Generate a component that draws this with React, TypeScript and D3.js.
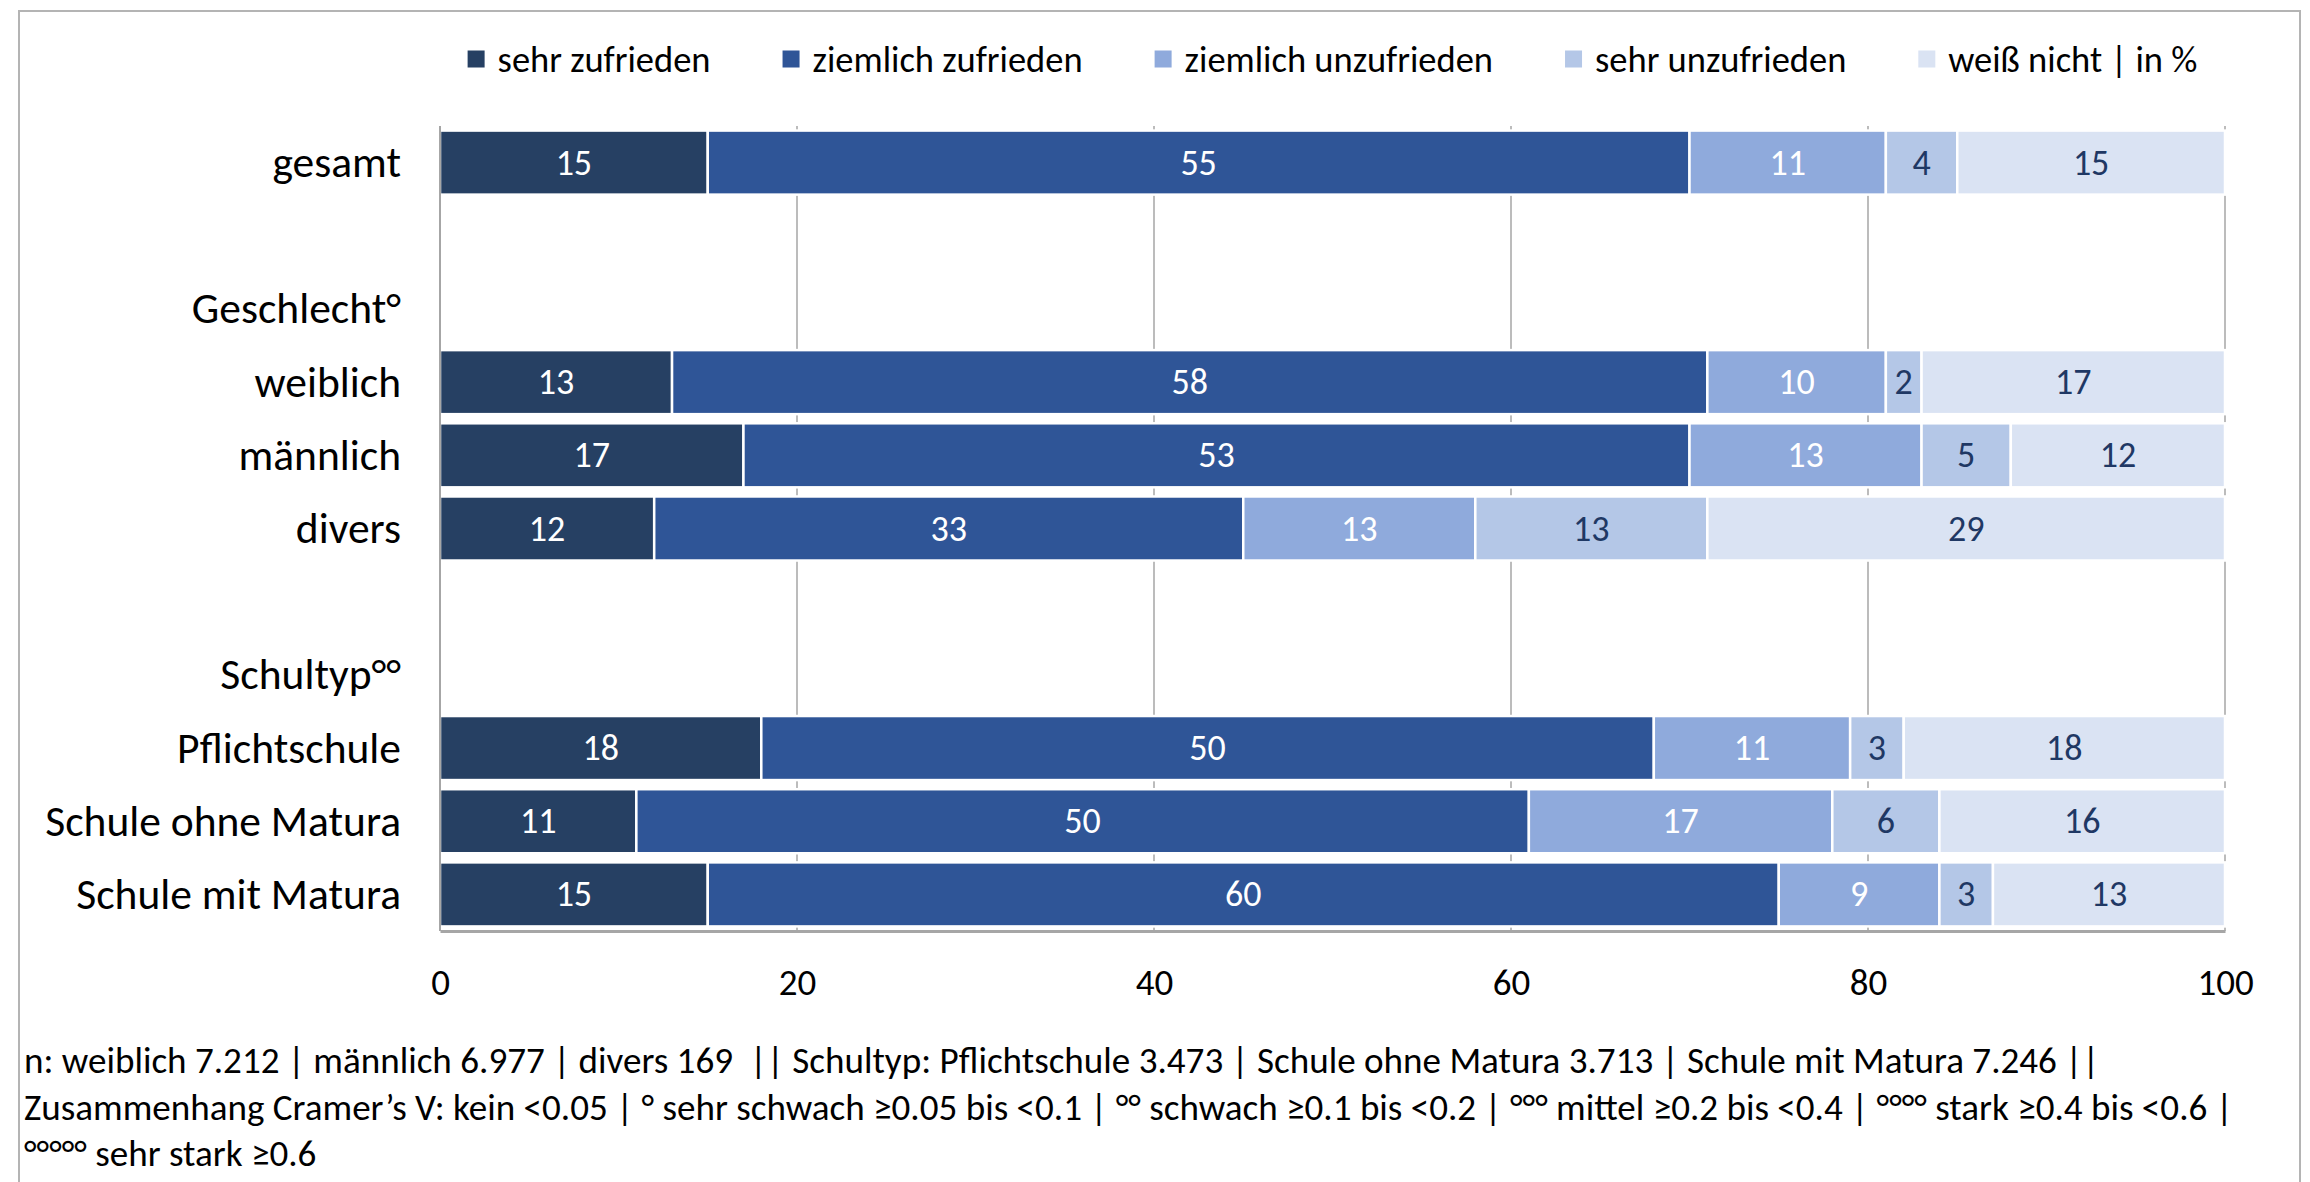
import React, { useEffect, useRef } from 'react';
import * as d3 from 'd3';

const WIDTH = 2310;
const HEIGHT = 1182;
const FONT = 'Carlito, Calibri, Lato, sans-serif';

// rows of the chart, header rows and spacer rows have no values
const categories = [
  'gesamt', '', 'Geschlecht°', 'weiblich', 'männlich', 'divers',
  '', 'Schultyp°°', 'Pflichtschule', 'Schule ohne Matura', 'Schule mit Matura',
];

const seriesNames = ['sehr zufrieden', 'ziemlich zufrieden', 'ziemlich unzufrieden', 'sehr unzufrieden', 'weiß nicht | in %'];
const sehrZufrieden = [15, null, null, 13, 17, 12, null, null, 18, 11, 15];
const ziemlichZufrieden = [55, null, null, 58, 53, 33, null, null, 50, 50, 60];
const ziemlichUnzufrieden = [11, null, null, 10, 13, 13, null, null, 11, 17, 9];
const sehrUnzufrieden = [4, null, null, 2, 5, 13, null, null, 3, 6, 3];
const weissNicht = [15, null, null, 17, 12, 29, null, null, 18, 16, 13];

const seriesColors = ['#264063', '#2F5597', '#8FAADC', '#B4C7E7', '#DAE3F3'];
const labelColors = ['#ffffff', '#ffffff', '#ffffff', '#1F3864', '#1F3864'];

const xTicks = [0, 20, 40, 60, 80, 100];

const footnoteLines = [
  'n: weiblich 7.212 | männlich 6.977 | divers 169  || Schultyp: Pflichtschule 3.473 | Schule ohne Matura 3.713 | Schule mit Matura 7.246 ||',
  'Zusammenhang Cramer’s V: kein <0.05 | ° sehr schwach ≥0.05 bis <0.1 | °° schwach ≥0.1 bis <0.2 | °°° mittel ≥0.2 bis <0.4 | °°°° stark ≥0.4 bis <0.6 |',
  '°°°°° sehr stark ≥0.6',
];

type Row = { key: string; label: string; [k: string]: number | string };

export default function App() {
  const ref = useRef<SVGSVGElement>(null);

  useEffect(() => {
    const svg = d3.select(ref.current);
    svg.selectAll('*').remove();

    const allSeries = [sehrZufrieden, ziemlichZufrieden, ziemlichUnzufrieden, sehrUnzufrieden, weissNicht];
    const rows: Row[] = categories.map((c, i) => {
      const r: Row = { key: String(i), label: c };
      seriesNames.forEach((s, j) => { r[s] = allSeries[j][i] ?? 0; });
      return r;
    });

    const x = d3.scaleLinear().domain([0, 100]).range([440, 2225]);
    const y = d3.scaleBand<string>()
      .domain(rows.map(r => r.key))
      .range([126, 931])
      .paddingInner(0.125)
      .paddingOuter(0.0625);

    // frame
    svg.append('rect')
      .attr('x', 19).attr('y', 11)
      .attr('width', 2281).attr('height', 1200)
      .attr('fill', 'none')
      .attr('stroke', '#b4b4b4')
      .attr('stroke-width', 2);

    // gridlines
    svg.append('g')
      .selectAll('line')
      .data(xTicks.filter(t => t > 0))
      .join('line')
      .attr('x1', d => x(d)).attr('x2', d => x(d))
      .attr('y1', 126).attr('y2', 931)
      .attr('stroke', '#a6a6a6')
      .attr('stroke-width', 1.5);

    const stack = d3.stack<Row>().keys(seriesNames).value((d, k) => d[k] as number);
    const stacked = stack(rows);

    const barRows = (i: number) => allSeries[0][i] !== null;

    const layers = svg.append('g')
      .selectAll('g')
      .data(stacked)
      .join('g')
      .attr('fill', (_, i) => seriesColors[i]);

    layers.selectAll('rect')
      .data(d => d.filter((_, i) => barRows(i)))
      .join('rect')
      .attr('x', d => x(d[0]))
      .attr('y', d => y(d.data.key)!)
      .attr('width', d => x(d[1]) - x(d[0]))
      .attr('height', y.bandwidth())
      .attr('stroke', '#ffffff')
      .attr('stroke-width', 2.5);

    const labels = svg.append('g')
      .selectAll('g')
      .data(stacked)
      .join('g')
      .attr('fill', (_, i) => labelColors[i]);

    labels.selectAll('text')
      .data(d => d.filter((_, i) => barRows(i)))
      .join('text')
      .attr('x', d => (x(d[0]) + x(d[1])) / 2)
      .attr('y', d => y(d.data.key)! + y.bandwidth() / 2)
      .attr('text-anchor', 'middle')
      .attr('dominant-baseline', 'central')
      .attr('font-family', FONT)
      .attr('font-size', 36)
      .text(d => String(d[1] - d[0]));

    // left axis line
    svg.append('line')
      .attr('x1', x(0)).attr('x2', x(0))
      .attr('y1', 126).attr('y2', 931)
      .attr('stroke', '#a6a6a6')
      .attr('stroke-width', 2);

    // bottom axis
    const axis = svg.append('g')
      .attr('transform', 'translate(0,931)')
      .call(d3.axisBottom(x).tickValues(xTicks).tickSize(0).tickPadding(38).tickFormat(d3.format('d')));
    axis.select('.domain').attr('stroke', '#a6a6a6').attr('stroke-width', 3);
    axis.selectAll('text')
      .attr('font-family', FONT)
      .attr('font-size', 37)
      .attr('fill', '#000');

    // category labels
    svg.append('g')
      .selectAll('text')
      .data(rows)
      .join('text')
      .attr('x', 401)
      .attr('y', d => y(d.key)! + y.bandwidth() / 2)
      .attr('text-anchor', 'end')
      .attr('dominant-baseline', 'central')
      .attr('font-family', FONT)
      .attr('font-size', 43.5)
      .attr('fill', '#000')
      .text(d => d.label);

    // legend, centered over the plot area
    const legend = svg.append('g');
    const items = legend.selectAll('g')
      .data(seriesNames)
      .join('g');
    items.append('rect')
      .attr('width', 17).attr('height', 17)
      .attr('y', 59 - 8.5)
      .attr('fill', (_, i) => seriesColors[i]);
    items.append('text')
      .attr('x', 30)
      .attr('y', 59)
      .attr('dominant-baseline', 'central')
      .attr('font-family', FONT)
      .attr('font-size', 36.5)
      .attr('fill', '#000')
      .text(d => d);
    const widths: number[] = [];
    items.select<SVGTextElement>('text').each(function () { widths.push(this.getComputedTextLength()); });
    const gap = 72;
    const total = d3.sum(widths, w => 30 + w) + gap * (widths.length - 1);
    let cx = (x(0) + x(100)) / 2 - total / 2;
    items.attr('transform', (_, i) => {
      const t = `translate(${cx},0)`;
      cx += 30 + widths[i] + gap;
      return t;
    });

    // footnote
    svg.append('g')
      .selectAll('text')
      .data(footnoteLines)
      .join('text')
      .attr('x', 24)
      .attr('y', (_, i) => 1073 + i * 46.5)
      .attr('font-family', FONT)
      .attr('font-size', 37.1)
      .attr('fill', '#000')
      .style('white-space', 'pre')
      .text(d => d);
  }, []);

  return (
    <svg
      ref={ref}
      width={WIDTH}
      height={HEIGHT}
      style={{ position: 'absolute', left: 0, top: 0, background: '#fff' }}
    />
  );
}
